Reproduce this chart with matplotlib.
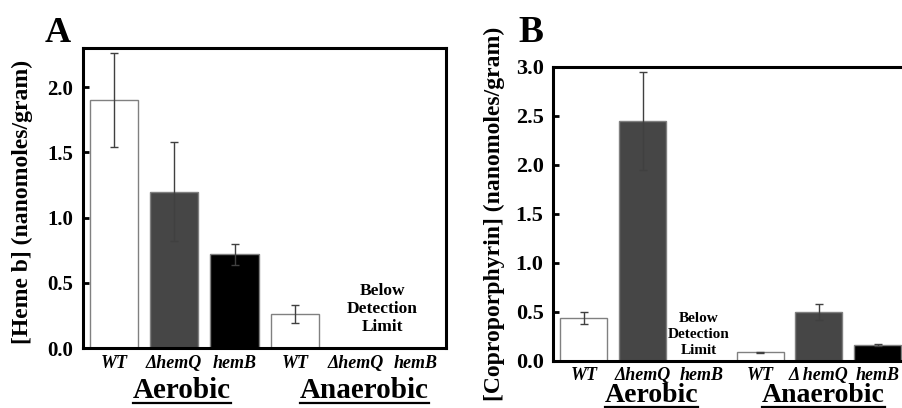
import matplotlib.pyplot as plt
import matplotlib.transforms as mtransforms
from matplotlib.lines import Line2D

plt.rcParams['font.family'] = 'Liberation Serif'
plt.rcParams['font.weight'] = 'bold'

# panel A: heme b
heme_labels = ['WT', '\u0394hemQ', 'hemB', 'WT', '\u0394hemQ', 'hemB']
heme_vals = [1.90, 1.20, 0.72, 0.26]
heme_err = [0.36, 0.38, 0.08, 0.07]

# panel B: coproporphyrin (aerobic hemB below detection limit)
copro_labels = ['WT', '\u0394hemQ', 'hemB', 'WT', '\u0394 hemQ', 'hemB']
copro_pos = [0, 1, 3, 4, 5]
copro_vals = [0.44, 2.45, 0.087, 0.50, 0.163]
copro_err = [0.06, 0.50, 0.006, 0.08, 0.015]

colors_a = ['white', '#464646', 'black', 'white']
colors_b = ['white', '#464646', 'white', '#464646', 'black']

fig = plt.figure(figsize=(9.02, 4.08), dpi=100)
underlined = []


def style_axes(ax, ylim, yticks, tick_fs):
    ax.set_xlim(-0.52, 5.5)
    ax.set_ylim(*ylim)
    ax.set_yticks(yticks)
    ax.set_yticklabels(['%.1f' % t for t in yticks], fontsize=tick_fs, fontweight='bold')
    ax.tick_params(axis='y', direction='in', length=4, width=2, pad=7)
    ax.tick_params(axis='x', length=0)
    for s in ax.spines.values():
        s.set_linewidth(2.2)


def group_labels(ax, y, fs, xs):
    tr = mtransforms.blended_transform_factory(ax.transData, ax.transAxes)
    for x, name in zip(xs, ['Aerobic', 'Anaerobic']):
        t = ax.text(x, y, name, transform=tr, ha='center', va='center',
                    fontsize=fs, fontweight='bold')
        underlined.append(t)


# ---- A ----
axA = fig.add_axes([0.092, 0.147, 0.4025, 0.735])
axA.bar(range(len(heme_vals)), heme_vals, width=0.8, color=colors_a,
        edgecolor='#808080', linewidth=1.0, zorder=2)
axA.errorbar(range(len(heme_vals)), heme_vals, yerr=heme_err, fmt='none',
             ecolor='#404040', elinewidth=1.0, capsize=3, capthick=1.0, zorder=3)
style_axes(axA, (0, 2.3), [0.0, 0.5, 1.0, 1.5, 2.0], 15)
axA.set_xlim(-0.51, 5.5)
axA.set_xticks(range(6))
axA.set_xticklabels(heme_labels, fontsize=13, fontstyle='italic', fontweight='bold')
axA.tick_params(axis='x', pad=5)
axA.set_ylabel('[Heme b] (nanomoles/gram)', fontsize=17, fontweight='bold')
axA.yaxis.set_label_coords(-0.138, 0.487)
axA.text(4.45, 0.30, 'Below\nDetection\nLimit', ha='center', va='center',
         fontsize=12.5, fontweight='bold', linespacing=1.2)
group_labels(axA, -0.14, 21, [1.13, 4.15])
fig.text(0.064, 0.897, 'A', fontsize=26, fontweight='bold', ha='center', va='baseline')

# ---- B ----
axB = fig.add_axes([0.6134, 0.1152, 0.392, 0.7213])
axB.bar(copro_pos, copro_vals, width=0.8, color=colors_b,
        edgecolor='#808080', linewidth=1.0, zorder=2)
axB.errorbar(copro_pos, copro_vals, yerr=copro_err, fmt='none',
             ecolor='#404040', elinewidth=1.0, capsize=3, capthick=1.0, zorder=3)
style_axes(axB, (0, 3.0), [0.0, 0.5, 1.0, 1.5, 2.0, 2.5, 3.0], 16)
axB.set_xticks(range(6))
axB.set_xticklabels(copro_labels, fontsize=13, fontstyle='italic', fontweight='bold')
axB.tick_params(axis='x', pad=4)
axB.set_ylabel('[Coproporphyrin] (nanomoles/gram)', fontsize=17, fontweight='bold')
axB.yaxis.set_label_coords(-0.137, 0.50)
axB.text(1.96, 0.275, 'Below\nDetection\nLimit', ha='center', va='center',
         fontsize=11, fontweight='bold', linespacing=1.3)
group_labels(axB, -0.118, 20, [1.15, 4.08])
fig.text(0.589, 0.897, 'B', fontsize=27, fontweight='bold', ha='center', va='baseline')

# underline the condition labels
fig.canvas.draw()
r = fig.canvas.get_renderer()
W, H = fig.bbox.width, fig.bbox.height
for t in underlined:
    bb = t.get_window_extent(r)
    yl = (bb.y0 + 1) / H
    fig.add_artist(Line2D([bb.x0 / W, bb.x1 / W], [yl, yl], color='black', lw=1.6))

fig.savefig('out.png', dpi=100)
